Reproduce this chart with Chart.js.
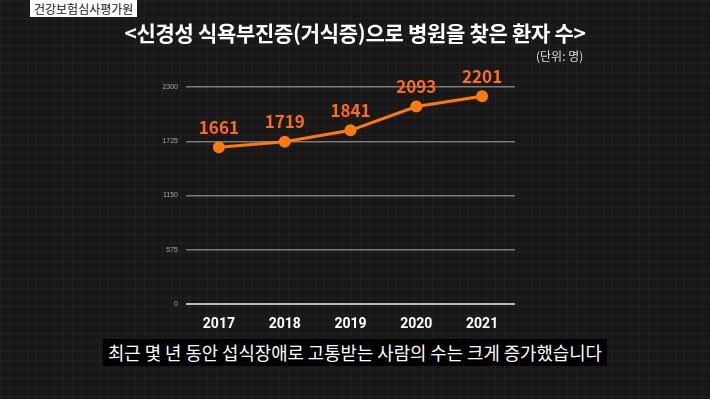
<!DOCTYPE html>
<html>
<head>
<meta charset="utf-8">
<script src="https://cdn.jsdelivr.net/npm/chart.js@4"></script>
<style>
  html, body { margin: 0; padding: 0; }
  body {
    width: 710px; height: 399px; overflow: hidden; position: relative;
    background-color: #181818;
    background-image:
      linear-gradient(rgba(255,255,255,0.035) 1px, transparent 1px),
      linear-gradient(90deg, rgba(255,255,255,0.035) 1px, transparent 1px);
    background-size: 9px 9px;
    font-family: "Noto Sans CJK KR", "Noto Sans", sans-serif;
  }
  #src {
    position: absolute; left: 30px; top: 0; height: 17px; line-height: 17px;
    padding: 0 4px; background: #fff; color: #111; font-size: 12px;
  }
  #title {
    position: absolute; left: 0; width: 710px; top: 17px; text-align: center;
    color: #fff; font-size: 21px; font-weight: bold; letter-spacing: -0.3px;
  }
  #unit {
    position: absolute; left: 536px; top: 47px; color: #ddd; font-size: 12px;
  }
  #sub {
    position: absolute; left: 103px; top: 339px; height: 27px; line-height: 27px;
    padding: 0 5px; background: #000; color: #fff; font-size: 17.8px;
  }
  #wrap { position: absolute; left: 0; top: 0; width: 710px; height: 399px; }
</style>
</head>
<body>
<div id="wrap"><canvas id="chart1"></canvas></div>
<div id="src">건강보험심사평가원</div>
<div id="title">&lt;신경성 식욕부진증(거식증)으로 병원을 찾은 환자 수&gt;</div>
<div id="unit">(단위: 명)</div>
<div id="sub">최근 몇 년 동안 섭식장애로 고통받는 사람의 수는 크게 증가했습니다</div>
<script>
const years = ['2017', '2018', '2019', '2020', '2021']
const patients = [1661, 1719, 1841, 2093, 2201]
const yTicks = [0, 575, 1150, 1725, 2300]

// draw the value above each point
const valueLabels = {
  id: 'valueLabels',
  afterDatasetsDraw(chart) {
    const ctx = chart.ctx
    const meta = chart.getDatasetMeta(0)
    ctx.save()
    ctx.font = 'bold 17px "Noto Sans CJK KR", "Noto Sans", sans-serif'
    ctx.fillStyle = '#ff6a1c'
    ctx.textAlign = 'center'
    ctx.textBaseline = 'middle'
    meta.data.forEach((pt, i) => {
      ctx.fillText(patients[i], pt.x, pt.y - 20)
    })
    ctx.restore()
  }
}

new Chart(document.getElementById('chart1'), {
  type: 'line',
  data: {
    labels: years,
    datasets: [{
      data: patients,
      borderColor: '#ff7a0a',
      backgroundColor: '#ff7a0a',
      borderWidth: 3,
      pointRadius: 4.5,
      pointHoverRadius: 4.5,
      tension: 0
    }]
  },
  options: {
    responsive: true,
    maintainAspectRatio: false,
    animation: false,
    layout: { padding: { left: 146, right: 195, top: 87, bottom: 65 } },
    plugins: { legend: { display: false }, tooltip: { enabled: false } },
    scales: {
      x: {
        offset: true,
        grid: { display: false, offset: true },
        border: { display: false },
        ticks: { color: '#fff', font: { size: 14, weight: 'bold', family: 'Roboto' }, padding: 4 },
        afterFit: s => { s.height = 30 }
      },
      y: {
        min: 0, max: 2300,
        afterBuildTicks: s => { s.ticks = yTicks.map(v => ({ value: v })) },
        border: { display: false },
        grid: {
          color: c => c.tick && c.tick.value === 0 ? '#bbbbbb' : '#7a7a7a',
          lineWidth: c => c.tick && c.tick.value === 0 ? 2 : 1.5,
          drawTicks: false
        },
        ticks: { color: '#aaa', font: { size: 7 }, padding: 8, callback: v => String(v) },
        afterFit: s => { s.width = 40 }
      }
    }
  },
  plugins: [valueLabels]
})
</script>
</body>
</html>
